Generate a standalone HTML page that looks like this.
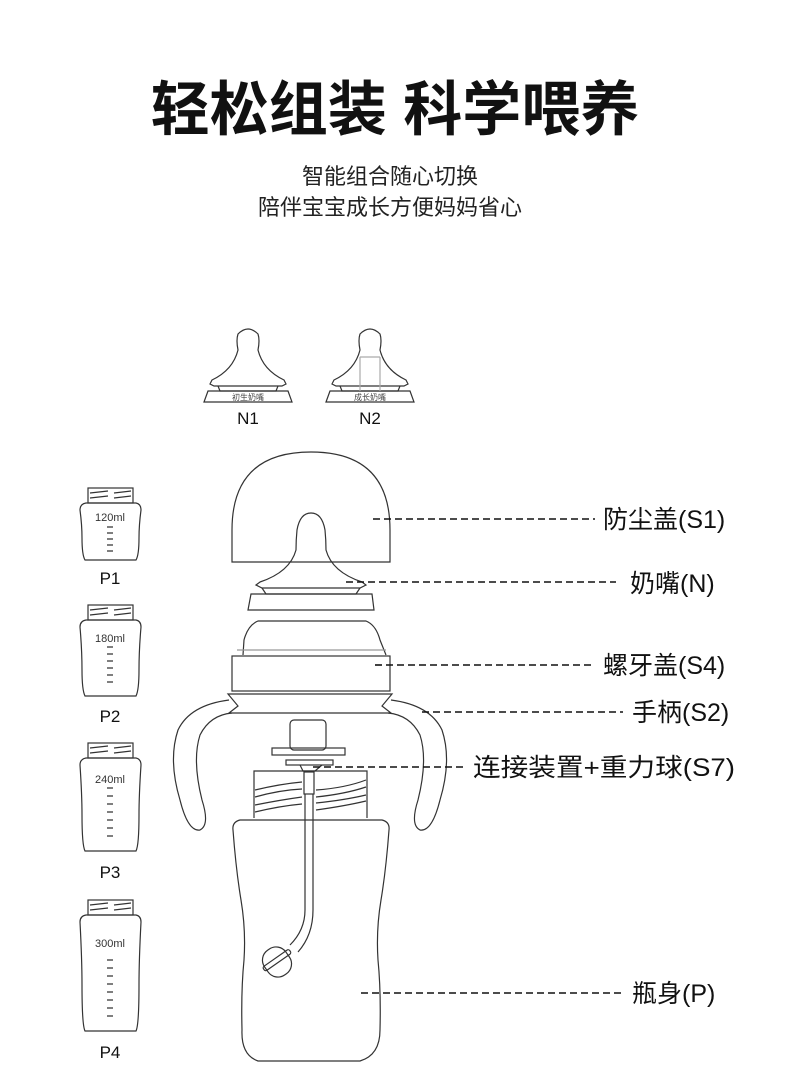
<!DOCTYPE html>
<html><head><meta charset="utf-8"><style>
body{margin:0;background:#fff}
svg{display:block}
text{font-family:"Liberation Sans","Noto Sans CJK SC",sans-serif}
</style></head><body>
<svg width="790" height="1089" viewBox="0 0 790 1089" xmlns="http://www.w3.org/2000/svg">
<text x="395" y="130" text-anchor="middle" font-size="59" font-weight="bold" fill="#111">轻松组装 科学喂养</text>
<text x="390" y="184" text-anchor="middle" font-size="22" fill="#222">智能组合随心切换</text>
<text x="390" y="215" text-anchor="middle" font-size="22" fill="#222">陪伴宝宝成长方便妈妈省心</text>

<g fill="none" stroke="#333" stroke-width="1.2">
<!-- N1 -->
<g transform="translate(248,0)">
<path d="M-38 384 L-36 380 Q-15 370 -10 350 Q-12 340 -10 334 Q0 324 10 334 Q12 340 10 350 Q15 370 36 380 L38 384 L34 386 L-34 386 Z"/>
<path d="M-30 386 L-28 391 L28 391 L30 386"/>
<path d="M-44 402 L-40 391 L40 391 L44 402 Z"/>
</g>
<text x="248" y="400" text-anchor="middle" font-size="8" fill="#444" stroke="none">初生奶嘴</text>
<text x="248" y="424" text-anchor="middle" font-size="17" fill="#111" stroke="none">N1</text>
<!-- N2 -->
<g transform="translate(370,0)">
<path d="M-38 384 L-36 380 Q-15 370 -10 350 Q-12 340 -10 334 Q0 324 10 334 Q12 340 10 350 Q15 370 36 380 L38 384 L34 386 L-34 386 Z"/>
<path d="M-30 386 L-28 391 L28 391 L30 386"/>
<path d="M-44 402 L-40 391 L40 391 L44 402 Z"/>
<path d="M-10 357 L-10 391 M10 357 L10 391 M-10 357 L10 357" stroke="#aaa"/>
</g>
<text x="370" y="400" text-anchor="middle" font-size="8" fill="#444" stroke="none">成长奶嘴</text>
<text x="370" y="424" text-anchor="middle" font-size="17" fill="#111" stroke="none">N2</text>

<!-- dome -->
<path d="M232 562 L232 530 Q232 452 311 452 Q390 452 390 530 L390 562 Z"/>
<!-- nipple -->
<path d="M256 585 L260 582 Q290 572 296 550 Q296 540 297 530 Q300 513 311 513 Q322 513 325 530 Q326 540 326 550 Q332 572 362 582 L366 585 L360 588 L262 588 Z"/>
<path d="M262 588 L266 594 L356 594 L360 588"/>
<path d="M248 610 L251 594 L372 594 L374 610 Z"/>
<!-- screw cap -->
<path d="M243 655 L244 640 Q248 625 258 621 L366 621 Q376 625 380 640 L386 655"/>
<path d="M237 650 L386 650" stroke="#999"/>
<rect x="232" y="656" width="158" height="35"/>
<!-- handles -->
<path d="M229 713 L238 706 L228 694 L392 694 L382 706 L391 713 Z"/>
<path d="M229 700 Q190 705 178 730 Q168 760 180 800 Q188 832 200 830 Q210 825 202 800 Q192 760 200 735 Q210 715 232 713"/>
<path d="M391 700 Q430 705 442 730 Q452 760 440 800 Q432 832 420 830 Q410 825 418 800 Q428 760 420 735 Q410 715 388 713"/>
<!-- connector -->
<rect x="290" y="720" width="36" height="30" rx="4"/>
<rect x="272" y="748" width="73" height="7"/>
<rect x="286" y="760" width="47" height="5"/>
<path d="M300 765 L303 771 L315 771 L322 765"/>
<rect x="304" y="772" width="10" height="22"/>
<!-- neck -->
<path d="M254 818 L254 771 L367 771 L367 818"/>
<path d="M255 790 Q280 784 302 782 M316 790 Q345 788 366 780 M255 797 Q280 790 302 789 M316 797 Q345 794 366 787 M255 805 Q280 800 302 797 M316 803 Q345 800 366 795 M255 812 Q280 806 302 804 M316 810 Q345 806 366 801"/>
<!-- tube -->
<path d="M305 794 L305 910 Q305 930 290 945 M313 794 L313 910 Q313 935 298 952"/>
<g transform="rotate(-35 277 962)"><rect x="264" y="947" width="26" height="30" rx="12"/><rect x="262" y="958" width="32" height="5" rx="2"/></g>
<!-- body -->
<path d="M240 820 L382 820 Q390 822 389 830 Q386 870 381 900 Q376 930 378 960 Q381 990 380 1030 Q380 1055 360 1061 L258 1061 Q241 1055 242 1030 Q241 990 244 960 Q246 930 241 900 Q236 870 233 830 Q232 822 240 820 Z"/>

<!-- small bottles -->
<g>
<rect x="88" y="488" width="45" height="15"/>
<path d="M90 493 L108 491 M114 493 L131 491 M90 498 L108 496 M114 498 L131 496" />
<path d="M86 503 L136 503 Q141 504 141 510 Q139 525 139 538 Q139 555 136 560 L85 560 Q82 555 82 538 Q82 525 80 510 Q80 504 86 503 Z"/>
</g>
<g>
<rect x="88" y="605" width="45" height="15"/>
<path d="M90 610 L108 608 M114 610 L131 608 M90 615 L108 613 M114 615 L131 613"/>
<path d="M86 620 L136 620 Q141 621 141 627 Q139 650 139 670 Q139 690 136 696 L85 696 Q82 690 82 670 Q82 650 80 627 Q80 621 86 620 Z"/>
</g>
<g>
<rect x="88" y="743" width="45" height="15"/>
<path d="M90 748 L108 746 M114 748 L131 746 M90 753 L108 751 M114 753 L131 751"/>
<path d="M86 758 L136 758 Q141 759 141 765 Q139 795 139 815 Q139 845 136 851 L85 851 Q82 845 82 815 Q82 795 80 765 Q80 759 86 758 Z"/>
</g>
<g>
<rect x="88" y="900" width="45" height="15"/>
<path d="M90 905 L108 903 M114 905 L131 903 M90 910 L108 908 M114 910 L131 908"/>
<path d="M86 915 L136 915 Q141 916 141 922 Q139 960 139 985 Q139 1025 136 1031 L85 1031 Q82 1025 82 985 Q82 960 80 922 Q80 916 86 915 Z"/>
</g>
<g stroke="#555" stroke-width="1.5">
<path d="M107 527 h6 M107 533 h6 M107 539 h6 M107 545 h6 M107 551 h6"/>
<path d="M107 647 h6 M107 654 h6 M107 661 h6 M107 668 h6 M107 675 h6 M107 682 h6"/>
<path d="M107 788 h6 M107 796 h6 M107 804 h6 M107 812 h6 M107 820 h6 M107 828 h6 M107 836 h6"/>
<path d="M107 960 h6 M107 968 h6 M107 976 h6 M107 984 h6 M107 992 h6 M107 1000 h6 M107 1008 h6 M107 1016 h6"/>
</g>
</g>
<g font-size="11" fill="#333" text-anchor="middle">
<text x="110" y="521">120ml</text>
<text x="110" y="642">180ml</text>
<text x="110" y="783">240ml</text>
<text x="110" y="947">300ml</text>
</g>
<g font-size="17" fill="#111" text-anchor="middle">
<text x="110" y="584">P1</text>
<text x="110" y="722">P2</text>
<text x="110" y="878">P3</text>
<text x="110" y="1058">P4</text>
</g>

<!-- dashed leaders -->
<g stroke="#111" stroke-width="1.6" stroke-dasharray="7,4">
<line x1="373" y1="519" x2="595" y2="519"/>
<line x1="346" y1="582" x2="616" y2="582"/>
<line x1="375" y1="665" x2="595" y2="665"/>
<line x1="422" y1="712" x2="623" y2="712"/>
<line x1="313" y1="767" x2="466" y2="767"/>
<line x1="361" y1="993" x2="622" y2="993"/>
</g>
<g font-size="25" fill="#111">
<text x="603" y="528">防尘盖(S1)</text>
<text x="630" y="592">奶嘴(N)</text>
<text x="603" y="674">螺牙盖(S4)</text>
<text x="632" y="721">手柄(S2)</text>
<text x="473" y="776" textLength="262" lengthAdjust="spacingAndGlyphs">连接装置+重力球(S7)</text>
<text x="632" y="1002">瓶身(P)</text>
</g>
</svg>
</body></html>
